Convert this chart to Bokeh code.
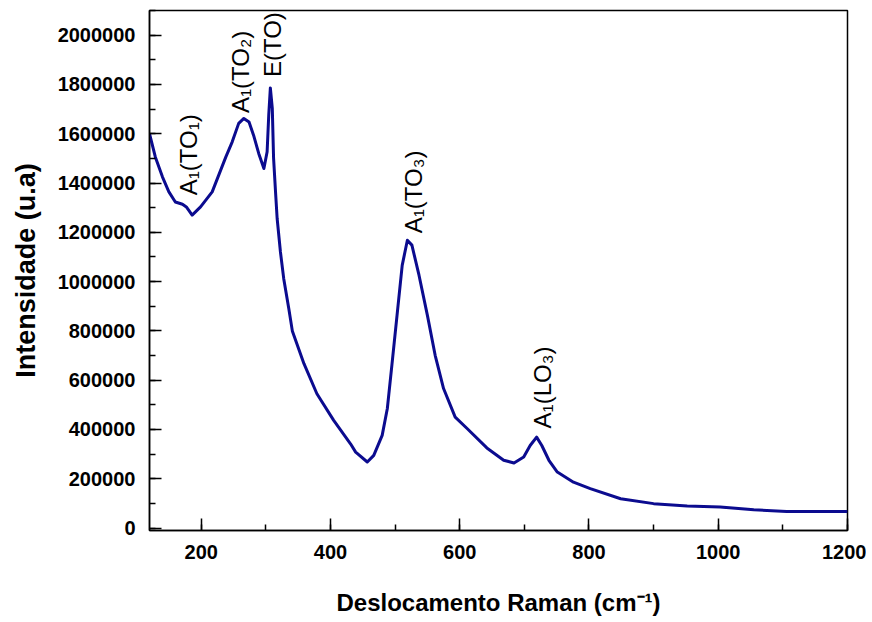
import numpy as np
from bokeh.plotting import figure
from bokeh.models import Range1d, SingleIntervalTicker, BasicTickFormatter, ColumnDataSource
from bokeh.embed import file_html
from bokeh.resources import INLINE
from bokeh.core.properties import value

# Raman spectrum
raman_shift = [120, 129, 140, 150, 160, 171, 177, 186, 199, 217, 238, 248, 258, 266, 274, 281,
               289, 297, 302, 304.5, 307, 310, 312, 315, 317.5, 322.6, 327.7, 335.5, 341, 359,
               379, 405, 431, 439, 457, 467, 480, 488, 495, 503, 511, 519, 526, 537, 550, 562,
               575, 593, 611, 642, 668, 684, 699, 709, 719, 727, 738, 751, 776, 802, 849, 900,
               952, 1003, 1055, 1106, 1158, 1200]
intensity = [1600000, 1506000, 1425000, 1364000, 1323000, 1314000, 1303000, 1270000, 1303000,
             1364000, 1505000, 1567000, 1642000, 1662000, 1648000, 1594000, 1520000, 1459000,
             1527000, 1676000, 1786000, 1703000, 1500000, 1364000, 1256000, 1120000, 1012000,
             891000, 800000, 667000, 545000, 437000, 342000, 308000, 268000, 295000, 376000,
             485000, 660000, 863000, 1066000, 1168000, 1148000, 1026000, 863000, 701000, 566000,
             450000, 405000, 325000, 275000, 264000, 288000, 335000, 369000, 335000, 275000,
             227000, 186000, 160000, 119000, 99000, 89000, 85000, 74000, 67000, 67000, 67000]

peak_labels = ["A\u2081(TO\u2081)", "A\u2081(TO\u2082)", "E(TO)", "A\u2081(TO\u2083)", "A\u2081(LO\u2083)"]
label_x = [180, 261, 310, 528, 728]
label_y = [1350000, 1684000, 1830000, 1196000, 404000]

FONT = "Liberation Sans"

p = figure(width=866, height=618, output_backend="svg", toolbar_location=None,
           x_range=Range1d(120, 1200), y_range=Range1d(-10000, 2100000),
           min_border_left=149, min_border_right=19, min_border_top=10, min_border_bottom=88)

p.line(raman_shift, intensity, line_color="#0b0b8f", line_width=3, line_join="round")

src = ColumnDataSource(dict(x=label_x, y=label_y, text=peak_labels))
p.text(x="x", y="y", text="text", source=src, angle=np.pi / 2, text_align="left",
       text_baseline="middle", text_font=value(FONT), text_font_size="24px", text_color="black")

p.grid.visible = False
p.outline_line_color = "black"
p.outline_line_width = 1.5
p.background_fill_color = "white"
p.border_fill_color = "white"

p.xaxis.ticker = SingleIntervalTicker(interval=200, num_minor_ticks=2)
p.yaxis.ticker = SingleIntervalTicker(interval=200000, num_minor_ticks=2)
p.yaxis.formatter = BasicTickFormatter(use_scientific=False)

for ax in (p.xaxis[0], p.yaxis[0]):
    ax.axis_line_color = "black"
    ax.axis_line_width = 1.5
    ax.major_tick_in = 12
    ax.major_tick_out = 0
    ax.minor_tick_in = 6
    ax.minor_tick_out = 0
    ax.major_tick_line_width = 1.5
    ax.minor_tick_line_width = 1.5
    ax.major_label_text_font = FONT
    ax.major_label_text_font_style = "bold"
    ax.major_label_text_font_size = "20px"
    ax.major_label_text_color = "black"
    ax.major_label_standoff = 14
    ax.axis_label_text_font = FONT
    ax.axis_label_text_font_style = "bold"
    ax.axis_label_text_color = "black"

p.xaxis.axis_label = "Deslocamento Raman (cm\u207b\u00b9)"
p.xaxis.axis_label_text_font_size = "24px"
p.xaxis.axis_label_standoff = 27
p.yaxis.axis_label = "Intensidade (u.a)"
p.yaxis.axis_label_text_font_size = "27px"
p.yaxis.axis_label_standoff = 14

open("out.html", "w").write(file_html(p, INLINE))
